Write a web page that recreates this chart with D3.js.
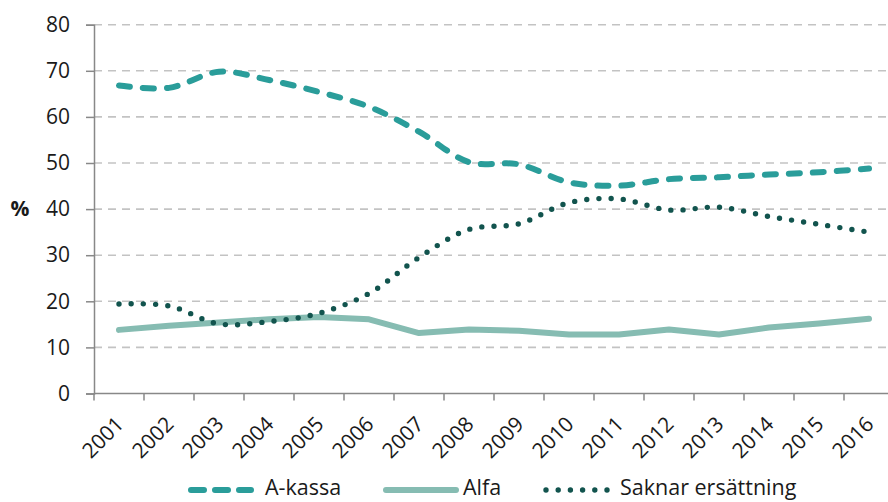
<!DOCTYPE html>
<html lang="sv">
<head>
<meta charset="utf-8">
<title>A-kassa, Alfa, Saknar ersättning</title>
<script src="https://cdn.jsdelivr.net/npm/d3@7"></script>
<style>
  body { margin: 0; background: #fff; }
  svg text { font-family: "Open Sans", sans-serif; fill: #1a1a1a; }
</style>
</head>
<body>
<svg id="chart" width="888" height="502"></svg>
<script>
// values
const years = ["2001","2002","2003","2004","2005","2006","2007","2008",
               "2009","2010","2011","2012","2013","2014","2015","2016"];
const akassa = [66.8, 66.3, 69.8, 68.0, 65.4, 62.2, 56.8, 50.2, 49.7, 45.8, 45.1, 46.5, 46.9, 47.5, 48.0, 48.8];
const alfa   = [13.8, 14.7, 15.4, 16.1, 16.6, 16.1, 13.1, 13.9, 13.6, 12.8, 12.8, 13.9, 12.8, 14.3, 15.2, 16.2];
const saknar = [19.4, 19.0, 15.1, 15.6, 17.4, 21.7, 29.5, 35.6, 36.8, 41.4, 42.2, 39.8, 40.4, 38.4, 36.7, 35.0];
const yTicks = [0, 10, 20, 30, 40, 50, 60, 70, 80];
const seriesNames = ["A-kassa", "Alfa", "Saknar ersättning"];

const svg = d3.select("#chart");
const plotLeft = 94, plotTop = 24.7, plotBottom = 393.5;

const x = d3.scaleBand().domain(years).range([plotLeft, plotLeft + 50 * years.length]);
const cx = d => x(d) + x.bandwidth() / 2;
const y = d3.scaleLinear().domain([0, 80]).range([plotBottom, plotTop]);

// gridlines
svg.append("g")
  .selectAll("line")
  .data(yTicks.filter(t => t > 0))
  .enter().append("line")
  .attr("x1", plotLeft).attr("x2", 888)
  .attr("y1", d => y(d)).attr("y2", d => y(d))
  .attr("stroke", "#c3c3c3")
  .attr("stroke-width", 1.6)
  .attr("stroke-dasharray", "8 6");

// y axis
const yAxis = svg.append("g")
  .attr("transform", `translate(${plotLeft},0)`)
  .call(d3.axisLeft(y).tickValues(yTicks).tickSize(8).tickPadding(16));
yAxis.select(".domain").attr("stroke", "#888").attr("stroke-width", 1.5);
yAxis.selectAll(".tick line").attr("stroke", "#888").attr("stroke-width", 1.5);
yAxis.selectAll(".tick text")
  .attr("font-size", 21).attr("fill", "#1a1a1a")
  .attr("font-family", "Open Sans, sans-serif");

// x axis: ticks between categories
const xAxis = svg.append("g").attr("transform", `translate(0,${plotBottom})`);
xAxis.append("line")
  .attr("x1", plotLeft).attr("x2", 888)
  .attr("stroke", "#888").attr("stroke-width", 1.5);
xAxis.selectAll("line.tk")
  .data(years.concat(["end"]))
  .enter().append("line")
  .attr("class", "tk")
  .attr("x1", (d, i) => plotLeft + i * x.bandwidth())
  .attr("x2", (d, i) => plotLeft + i * x.bandwidth())
  .attr("y1", 0).attr("y2", 7)
  .attr("stroke", "#888").attr("stroke-width", 1.5);
xAxis.selectAll("text")
  .data(years)
  .enter().append("text")
  .attr("transform", d => `translate(${cx(d) + 6},32) rotate(-45)`)
  .attr("text-anchor", "end")
  .attr("font-size", 21)
  .text(d => d);

// % label
svg.append("text")
  .attr("x", 20).attr("y", y(40))
  .attr("dy", "0.35em")
  .attr("text-anchor", "middle")
  .attr("font-size", 21)
  .attr("font-weight", "bold")
  .text("%");

const styles = [
  { color: "#2a9d9a", width: 6, dash: "11 13", curve: d3.curveCatmullRom },
  { color: "#86bcb2", width: 6, dash: null, curve: d3.curveLinear },
  { color: "#12544e", width: 5.4, dash: "0 12.2", curve: d3.curveCatmullRom }
];
const data = [akassa, alfa, saknar];

data.forEach((vals, k) => {
  const st = styles[k];
  const line = d3.line()
    .x((d, i) => cx(years[i]))
    .y(d => y(d))
    .curve(st.curve);
  svg.append("path")
    .datum(vals)
    .attr("d", line)
    .attr("fill", "none")
    .attr("stroke", st.color)
    .attr("stroke-width", st.width)
    .attr("stroke-linecap", "round")
    .attr("stroke-linejoin", "round")
    .attr("stroke-dasharray", st.dash);
});

// legend
const legendPos = [
  { x0: 191, x1: 251, tx: 265 },
  { x0: 386, x1: 456, tx: 463 },
  { x0: 546, x1: 607, tx: 620 }
];
const lg = svg.append("g");
seriesNames.forEach((name, k) => {
  const st = styles[k], p = legendPos[k];
  lg.append("line")
    .attr("x1", p.x0).attr("x2", p.x1)
    .attr("y1", 490).attr("y2", 490)
    .attr("stroke", st.color)
    .attr("stroke-width", st.width)
    .attr("stroke-linecap", "round")
    .attr("stroke-dasharray", k === 0 ? "13 11" : st.dash);
  lg.append("text")
    .attr("x", p.tx).attr("y", 495)
    .attr("font-size", 21.5)
    .text(name);
});
</script>
</body>
</html>
